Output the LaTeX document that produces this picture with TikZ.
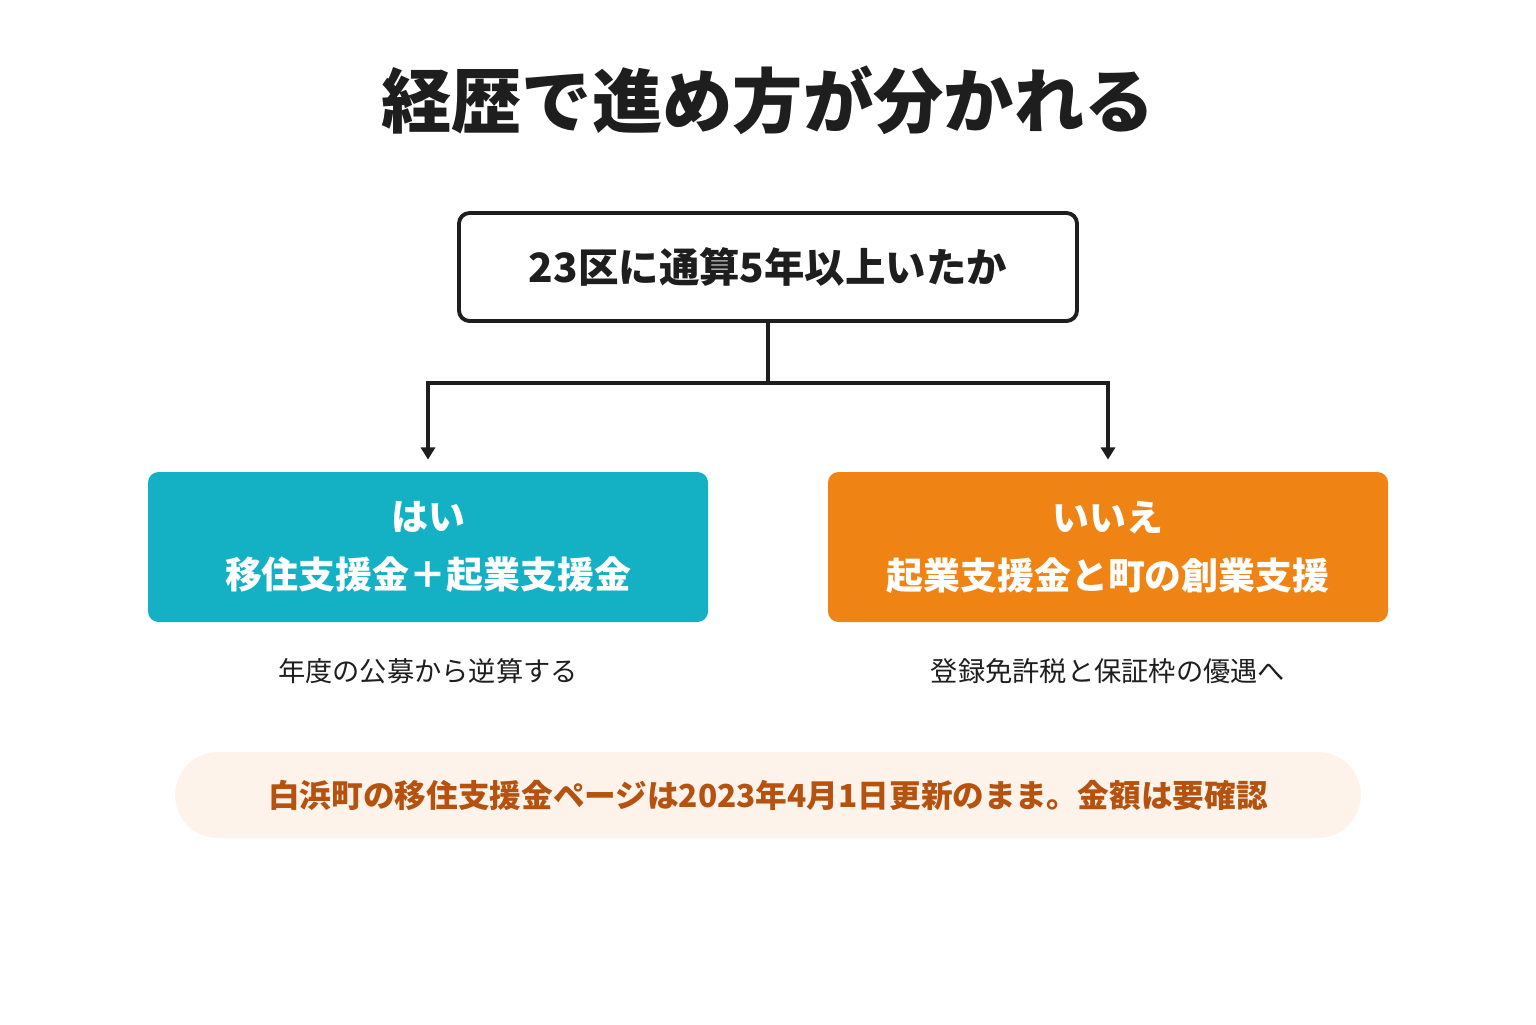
\documentclass[tikz,border=0pt]{standalone}
\usepackage{fontspec}
\setmainfont{Noto Sans CJK JP}
\usetikzlibrary{arrows.meta,positioning}
\definecolor{teal1}{HTML}{14B1C5}
\definecolor{orange1}{HTML}{EF8313}
\definecolor{memofill}{HTML}{FDF3EA}
\definecolor{memotext}{HTML}{B5520F}
\definecolor{ink}{HTML}{1E1E1E}
\tikzset{
	question/.style={
		rectangle,
		rounded corners=6pt,
		draw=ink,
		line width=2.2pt,
		minimum width=12.36cm,
		minimum height=2.16cm,
		text centered,
		font=\fontsize{23}{27}\selectfont\bfseries,
		text=ink,
	},
	answer/.style={
		rectangle,
		rounded corners=6pt,
		minimum width=11.2cm,
		minimum height=3cm,
		align=center,
		text=white,
		font=\fontsize{21}{33}\selectfont\bfseries,
	},
	note/.style={
		font=\fontsize{15.5}{18}\selectfont,
		text=ink,
	},
}

\begin{document}
\begin{tikzpicture}[>={Triangle[width=8pt,length=7pt]}]
	\useasboundingbox (0,0) rectangle (30.72,-20.48);
	
	\node[font=\fontsize{40}{44}\selectfont\bfseries, text=ink] (TITLE) at (15.36,-2.0) {経歴で進め方が分かれる};
	
	\node[question] (ASK) at (15.36,-5.34) {23区に通算5年以上いたか};
	
	\node[answer, fill=teal1] (YES) at (8.56,-10.94)
	{はい\\移住支援金＋起業支援金};
	
	\node[answer, fill=orange1] (NO) at (22.16,-10.94)
	{いいえ\\起業支援金と町の創業支援};
	
	\node[note, below=0.6cm of YES] (YESNOTE) {年度の公募から逆算する};
	\node[note, below=0.6cm of NO] (NONOTE) {登録免許税と保証枠の優遇へ};
	
	\node[rectangle, rounded corners=0.86cm, fill=memofill,
	minimum width=23.72cm, minimum height=1.72cm,
	text=memotext, font=\fontsize{18}{22}\selectfont\bfseries] (MEMO) at (15.36,-15.9)
	{白浜町の移住支援金ページは2023年4月1日更新のまま。金額は要確認};
	
	\draw[->, ink, line width=2.2pt, shorten >=0.24cm]
	(ASK.south) -- ++(0,-1.2) coordinate (SPLIT) -| (YES.north);
	\draw[->, ink, line width=2.2pt, shorten >=0.24cm]
	(SPLIT) -| (NO.north);
	
\end{tikzpicture}
\end{document}
